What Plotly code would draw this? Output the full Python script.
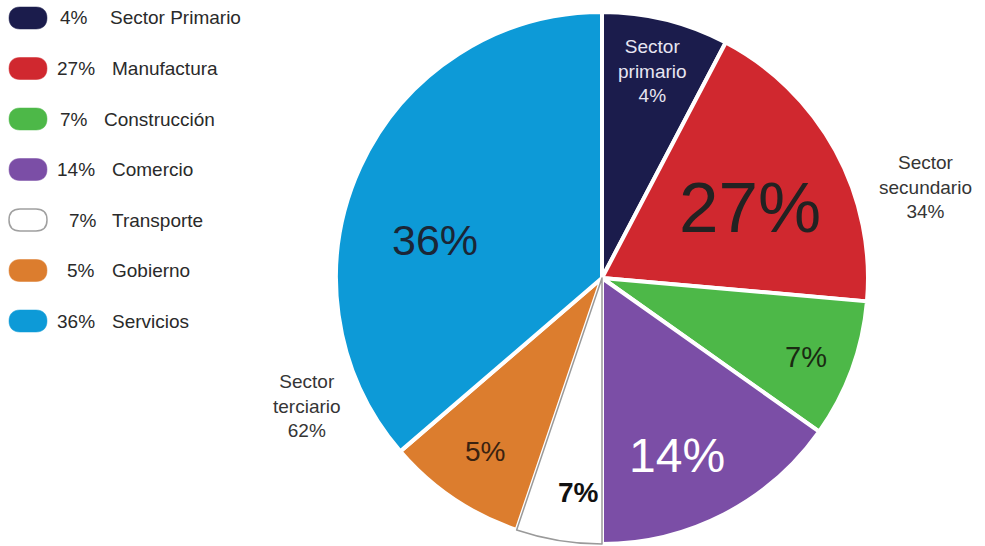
import plotly.graph_objects as go

# ---- data ----
categories = ["Sector Primario", "Manufactura", "Construcción", "Comercio",
              "Transporte", "Gobierno", "Servicios"]
# printed percentages (labels / legend)
values = [4, 27, 7, 14, 7, 5, 36]
# slice sizes as drawn in the picture (angular share, %;
# the original artwork does not draw the slices in proportion to the printed values)
slice_share = [7.7, 18.7, 8.4, 15.2, 5.2, 8.5, 36.3]
colors = ["#1b1c4c", "#d0282f", "#4db848", "#7b4ea6", "#ffffff", "#dc7d2e", "#0d9ad7"]
sector_names = ["Sector<br>primario", "Sector<br>secundario", "Sector<br>terciario"]
sector_values = [4, 34, 62]

W, H = 985, 546
FONT = "Liberation Sans, Arial, Helvetica, sans-serif"

def px(x):
    return x / W

def py(y):
    return 1 - y / H

fig = go.Figure()

dom = dict(x=[px(336), px(868)], y=[py(544), py(12)])

# main pie
fig.add_trace(go.Pie(
    labels=categories, values=slice_share, sort=False, direction="clockwise",
    rotation=0, marker=dict(colors=colors, line=dict(color="white", width=4)),
    textinfo="none", customdata=values, hovertemplate="%{label}: %{customdata}%<extra></extra>",
    showlegend=False, domain=dom,
))
# outline for the white slice
outline_colors = ["rgba(0,0,0,0)"] * len(values)
outline_widths = [0] * len(values)
outline_colors[4] = "#9a9a9a"
outline_widths[4] = 1.5
fig.add_trace(go.Pie(
    labels=categories, values=slice_share, sort=False, direction="clockwise",
    rotation=0,
    marker=dict(colors=["rgba(0,0,0,0)"] * len(values),
                line=dict(color=outline_colors, width=outline_widths)),
    textinfo="none", hoverinfo="skip", showlegend=False, domain=dom,
))

annotations = []

# slice labels (positions are layout constants)
slice_label_pos = [None, (750, 207), (806, 357), (677, 455), (578, 492), (485, 452), (435, 240)]
slice_label_size = [None, 71, 29, 48, 28, 28, 43]
slice_label_color = [None, "#222222", "#1a2a12", "#ffffff", "#111111", "#3a2210", "#1b2636"]
slice_label_bold = [False, False, False, False, True, False, False]
for i, v in enumerate(values):
    if slice_label_pos[i] is None:
        continue
    x, y = slice_label_pos[i]
    t = f"{v}%"
    if slice_label_bold[i]:
        t = f"<b>{t}</b>"
    annotations.append(dict(
        x=px(x), y=py(y), xref="paper", yref="paper", text=t, showarrow=False,
        xanchor="center", yanchor="middle",
        font=dict(family=FONT, size=slice_label_size[i], color=slice_label_color[i]),
    ))

# sector labels
sector_pos = [(652, 71), (925, 187), (307, 406)]
sector_color = ["#e8e6f2", "#353535", "#353535"]
for name, v, (x, y), c in zip(sector_names, sector_values, sector_pos, sector_color):
    annotations.append(dict(
        x=px(x), y=py(y), xref="paper", yref="paper", text=f"{name}<br>{v}%",
        showarrow=False, xanchor="center", yanchor="middle", align="center",
        font=dict(family=FONT, size=19, color=c),
    ))

# legend (pills + text)
shapes = []
pill = ("M -8,-11 L 8,-11 C 15,-11 19,-7 19,0 C 19,7 15,11 8,11 "
        "L -8,11 C -15,11 -19,7 -19,0 C -19,-7 -15,-11 -8,-11 Z")
row0, step = 18, 50.5
pct_right = [90, 97, 90, 97, 99, 97, 97]
lab_left = [108, 110, 102, 110, 110, 110, 110]
for i, (cat, v, col) in enumerate(zip(categories, values, colors)):
    yc = row0 + i * step
    line_col = "#a0a0a0" if col == "#ffffff" else col
    shapes.append(dict(
        type="path", xref="paper", yref="paper", xsizemode="pixel", ysizemode="pixel",
        xanchor=px(28), yanchor=py(yc), path=pill,
        fillcolor=col, line=dict(color=line_col, width=1.5 if col == "#ffffff" else 0.5),
    ))
    annotations.append(dict(
        x=px(pct_right[i]), y=py(yc), xref="paper", yref="paper", text=f"{v}%",
        showarrow=False, xanchor="right", yanchor="middle",
        font=dict(family=FONT, size=19, color="#2a2a2a"),
    ))
    annotations.append(dict(
        x=px(lab_left[i]), y=py(yc), xref="paper", yref="paper", text=cat,
        showarrow=False, xanchor="left", yanchor="middle",
        font=dict(family=FONT, size=19, color="#2a2a2a"),
    ))

fig.update_layout(
    width=W, height=H, margin=dict(l=0, r=0, t=0, b=0),
    paper_bgcolor="white", plot_bgcolor="white",
    annotations=annotations, shapes=shapes, showlegend=False,
)

fig.write_html("out.html", config={"displayModeBar": False},
               post_script="document.body.style.margin='0';document.body.style.overflow='hidden';")
